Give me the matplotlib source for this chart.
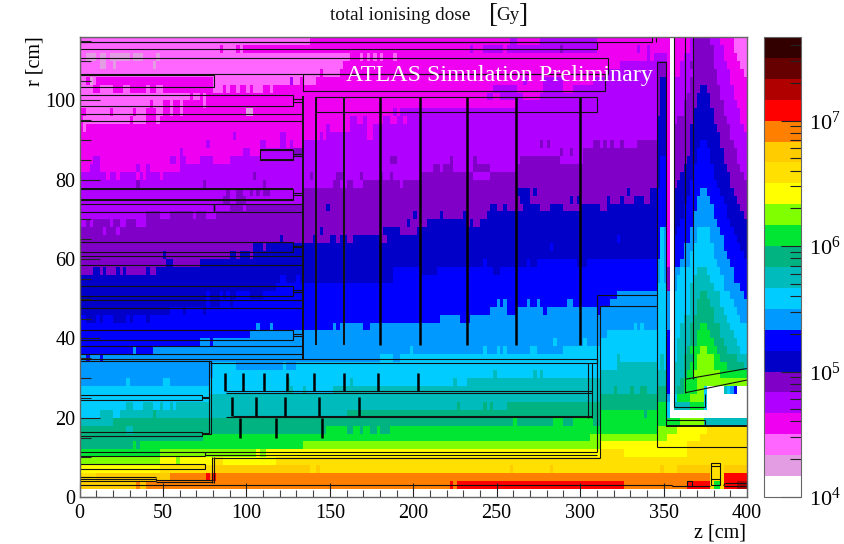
import numpy as np
import matplotlib
matplotlib.use("Agg")
import matplotlib.pyplot as plt
from matplotlib.colors import ListedColormap, LogNorm
from matplotlib.patches import Rectangle
from matplotlib.ticker import LogLocator, MultipleLocator, FixedLocator, FixedFormatter, NullFormatter

plt.rcParams['font.family'] = ['Liberation Serif', 'DejaVu Serif']
plt.rcParams['mathtext.fontset'] = 'custom'
plt.rcParams['mathtext.rm'] = 'Liberation Serif'
plt.rcParams['mathtext.it'] = 'Liberation Serif'

# Palette, one colour per dose level (6 levels per decade from 1e4 Gy)
palette = ['#ffffff', '#e39de3', '#ff66ff', '#f000f0', '#b000ff', '#8000c8', '#0000c8', '#0000ff',
           '#0099ff', '#00ccff', '#00bbbb', '#00b380', '#00e633', '#80ff00', '#ffff00', '#ffe000',
           '#ffcc00', '#ff8000', '#ff0000', '#b00000', '#660000', '#330000']

# Each row: level, z where that level ends, level, z ... (r bins 2 cm, z bins 2 cm)
r000 = [0,400]
r002 = [16,34,17,36,16,40,17,222,18,224,17,226,18,326,17,364,18,378,15,380,12,384,15,386,18,394,19,400]
r004 = [15,10,16,54,17,76,18,78,17,80,18,82,17,378,15,386,18,400]
r006 = [14,48,15,80,16,138,15,142,16,144,15,258,16,260,15,282,16,284,15,348,16,350,15,358,16,378,15,386,16,400]
r008 = [13,48,14,58,13,60,14,80,15,86,14,118,15,400]
r010 = [12,48,13,106,14,108,13,112,14,312,15,326,14,364,15,400]
r012 = [11,32,12,34,11,36,12,134,13,312,14,364,15,400]
r014 = [11,74,12,306,13,352,14,372,15,400]
r016 = [11,28,10,32,11,148,12,160,11,164,12,168,11,170,12,174,11,178,12,180,11,186,12,346,13,358,14,376,15,400]
r018 = [10,20,11,260,12,262,11,284,12,290,11,296,12,308,11,312,12,360,13,374,10,400]
r020 = [9,12,10,20,9,24,10,44,11,46,10,160,11,312,12,338,11,340,12,352,9,354,0,400]
r022 = [9,28,10,32,9,38,10,44,9,48,10,50,9,54,10,56,9,58,10,226,11,228,10,242,11,244,10,246,11,248,10,256,11,346,12,352,9,354,0,356,10,366,12,374,9,376,0,400]
r024 = [9,78,10,312,11,352,8,354,0,356,9,358,12,366,13,374,9,376,0,400]
r026 = [9,124,10,128,9,134,10,136,9,152,10,320,11,322,10,330,11,332,10,336,11,340,10,346,11,352,7,354,0,356,10,358,11,362,12,370,13,374,9,376,0,386,10,388,9,390,8,392,7,394,0,400]
r028 = [8,28,9,30,8,50,9,54,8,78,9,124,10,126,9,162,10,164,9,224,10,226,9,232,10,352,7,354,0,356,10,360,11,362,12,370,13,400]
r030 = [8,80,9,248,10,250,9,272,10,274,9,276,10,278,9,312,10,352,7,354,0,356,10,362,11,364,12,368,13,384,12,400]
r032 = [8,80,9,94,8,122,9,124,8,130,9,322,10,346,9,348,10,350,9,352,7,354,0,356,10,362,11,366,12,370,13,380,12,388,11,398,10,400]
r034 = [8,4,7,6,8,12,7,14,8,180,9,188,8,192,9,322,10,324,9,348,10,350,9,352,7,354,0,356,9,358,10,362,11,368,12,370,13,380,12,384,11,394,10,400]
r036 = [7,32,8,34,7,44,8,198,9,200,8,242,9,244,8,250,9,252,8,254,9,256,8,270,9,274,8,290,9,352,7,354,0,356,9,358,10,364,11,366,12,372,13,376,12,382,11,388,10,396,9,400]
r038 = [7,72,8,78,7,80,8,284,9,286,8,302,9,304,8,312,9,352,7,354,0,356,9,358,10,366,11,370,12,380,11,386,10,394,9,400]
r040 = [7,102,8,316,9,352,7,354,0,356,9,360,10,366,11,370,12,378,11,384,10,392,9,400]
r042 = [7,106,8,108,7,114,8,116,7,152,8,154,7,156,8,170,7,174,8,332,9,334,8,336,9,338,8,346,9,352,8,354,0,356,9,360,10,366,11,372,12,376,11,384,10,390,9,400]
r044 = [7,4,6,10,7,12,6,14,7,20,6,28,7,30,6,32,7,40,6,42,7,216,8,228,7,234,8,346,9,352,8,354,0,356,9,362,10,368,11,380,10,388,9,396,8,400]
r046 = [6,54,7,62,6,64,7,74,6,76,7,246,8,256,7,262,8,278,7,280,8,310,7,312,8,346,9,352,8,354,0,356,9,366,10,370,11,380,10,386,9,394,8,400]
r048 = [6,76,7,78,6,84,7,90,6,92,7,250,8,252,7,254,8,256,7,268,8,270,7,274,8,276,7,292,8,296,7,318,8,346,9,352,8,354,0,356,9,366,10,370,11,378,10,384,9,392,8,400]
r050 = [6,76,7,78,6,84,7,86,6,88,7,90,6,94,7,102,6,110,7,322,8,346,9,352,8,354,0,356,9,366,10,372,11,376,10,384,9,390,8,398,7,400]
r052 = [6,118,7,346,9,352,5,354,0,356,8,358,9,366,10,380,9,386,8,396,7,400]
r054 = [6,120,7,124,6,130,7,132,6,188,7,346,8,348,9,350,8,352,5,354,0,356,8,358,9,368,10,378,9,386,8,392,7,400]
r056 = [5,8,6,12,5,14,6,16,5,22,6,24,5,26,6,28,5,40,6,42,5,46,6,188,7,204,6,214,7,248,6,252,7,346,8,348,9,350,8,352,5,354,0,356,8,360,9,370,10,376,9,384,8,392,7,400]
r058 = [5,52,6,56,5,72,6,242,7,244,6,268,7,270,6,274,7,298,6,304,7,346,8,348,9,350,8,352,3,354,0,356,7,360,8,366,9,382,8,390,7,400]
r060 = [5,50,6,52,5,90,6,94,5,96,6,102,5,104,6,346,7,348,9,350,8,352,3,354,0,356,7,362,8,366,9,380,8,388,7,398,6,400]
r062 = [5,104,6,110,5,112,6,282,7,284,6,346,7,348,9,350,8,352,3,354,0,356,7,362,8,368,9,380,8,386,7,396,6,400]
r064 = [5,120,6,122,5,140,6,142,5,150,6,154,5,156,6,160,5,164,6,180,5,184,6,322,7,324,6,346,7,348,9,350,8,352,3,354,0,356,7,366,8,370,9,378,8,386,7,394,6,400]
r066 = [5,14,4,16,5,22,4,24,5,144,6,146,5,182,6,192,5,202,6,346,7,348,9,350,8,352,3,354,0,356,6,358,7,366,8,370,9,378,8,384,7,392,6,400]
r068 = [4,4,5,6,4,8,5,18,4,20,5,24,4,28,5,34,4,40,5,196,6,198,5,208,6,232,5,234,6,236,5,240,6,346,7,352,3,354,0,356,6,360,7,368,8,382,7,390,6,400]
r070 = [4,40,5,48,4,54,5,68,4,70,5,76,4,82,5,200,6,202,5,216,6,218,5,230,6,232,5,244,6,346,7,352,3,354,0,356,6,362,7,368,8,380,7,388,6,398,5,400]
r072 = [4,80,5,82,4,90,5,98,4,100,5,148,6,150,5,246,6,250,5,254,6,256,5,266,6,276,5,282,6,290,5,300,6,312,5,316,6,346,7,352,3,354,0,356,6,362,7,370,8,380,7,388,6,396,5,400]
r074 = [4,86,5,90,4,94,5,100,4,134,5,264,6,270,5,294,6,296,5,298,6,300,5,316,6,318,5,324,6,326,5,332,6,338,5,342,6,346,7,352,3,354,0,356,6,364,7,370,8,378,7,386,6,394,5,400]
r076 = [4,88,5,90,4,94,5,98,4,102,5,104,4,106,5,108,4,110,5,114,4,134,5,262,6,270,5,272,6,274,5,328,6,330,5,342,6,346,7,352,3,354,0,356,6,366,7,372,8,376,7,384,6,392,5,400]
r078 = [4,34,5,36,4,74,5,76,4,110,5,112,4,152,5,156,4,160,5,164,4,170,5,192,4,194,5,346,6,348,7,352,3,354,0,356,5,358,6,366,7,382,6,390,5,400]
r080 = [4,16,3,18,4,22,3,24,4,34,3,36,4,38,3,40,4,48,3,50,4,104,5,106,4,138,5,140,4,154,5,158,4,168,5,170,4,180,5,182,4,186,5,188,4,204,5,236,4,246,5,346,6,348,7,352,3,354,0,356,5,360,6,368,7,380,6,390,5,398,4,400]
r082 = [3,6,4,12,3,34,4,36,3,40,4,42,3,60,4,212,5,216,4,218,5,224,4,236,5,246,4,262,5,346,6,348,7,352,3,354,0,356,5,362,6,368,7,380,6,388,5,396,4,400]
r084 = [3,8,4,12,3,54,4,58,3,60,4,64,3,72,4,80,3,90,4,186,5,190,4,222,5,224,4,236,5,238,4,264,5,288,4,302,5,346,6,348,7,352,3,354,0,356,5,364,6,370,7,378,6,386,5,394,4,400]
r086 = [3,60,4,62,3,98,4,102,3,108,4,128,5,134,4,288,5,290,4,294,5,296,4,302,5,346,6,352,3,354,0,356,5,366,6,370,7,378,6,386,5,394,4,400]
r088 = [3,76,4,78,3,108,4,112,3,120,4,124,3,126,4,128,3,134,4,276,5,278,4,280,5,282,4,308,5,312,4,314,5,316,4,318,5,320,4,324,5,326,4,334,5,346,6,352,3,354,0,356,5,366,6,372,7,376,6,384,5,392,4,400]
r090 = [3,92,4,94,3,120,4,124,3,144,4,146,3,148,4,172,3,176,4,346,6,352,3,354,0,356,5,366,6,384,5,390,4,400]
r092 = [3,2,2,4,3,148,4,150,3,162,4,172,3,176,4,346,6,352,3,354,0,356,5,366,6,382,5,390,4,398,3,400]
r094 = [3,2,2,30,3,32,2,40,3,46,2,48,3,162,4,166,3,170,4,172,3,182,4,186,3,190,4,194,3,196,4,346,6,352,3,354,0,356,4,358,5,368,6,380,5,388,4,396,3,400]
r096 = [3,4,2,18,3,20,2,32,3,34,2,40,3,46,2,50,3,54,2,56,3,60,2,62,3,100,1,104,3,188,4,190,3,192,4,346,5,348,6,352,3,354,0,356,4,362,5,368,6,380,5,386,4,396,3,400]
r098 = [2,42,3,44,2,50,3,54,2,56,3,60,2,62,3,74,2,76,3,262,4,346,5,348,6,352,3,354,0,356,4,362,5,370,6,378,5,386,4,394,3,400]
r100 = [2,66,3,68,2,72,3,74,2,76,3,244,4,248,3,252,4,266,3,276,4,346,5,348,6,352,3,354,0,356,4,364,5,370,6,378,5,384,4,392,3,400]
r102 = [2,8,3,12,2,20,3,26,2,30,3,40,2,42,3,46,2,50,3,80,2,86,3,88,2,90,3,94,2,96,3,100,2,102,3,104,2,110,3,114,2,116,3,248,4,262,3,278,4,290,3,296,4,346,5,348,6,352,3,354,0,356,4,366,5,372,6,376,5,384,4,392,3,400]
r104 = [2,4,3,6,1,8,2,10,3,80,2,126,4,128,2,132,3,134,2,142,3,266,4,268,3,278,4,290,3,308,4,346,5,348,6,352,3,354,0,356,4,366,5,382,4,390,3,400]
r106 = [2,144,3,146,2,156,3,316,4,346,5,352,3,354,0,356,3,360,4,368,5,382,4,390,3,398,2,400]
r108 = [2,12,1,16,2,20,1,22,2,44,1,46,2,158,3,324,4,346,5,352,3,354,0,356,3,360,4,366,5,380,4,388,3,396,2,400]
r110 = [2,4,1,10,2,12,1,16,2,18,1,30,2,32,1,38,2,46,1,48,2,162,3,168,2,170,3,172,2,174,3,176,2,178,3,180,2,182,3,188,2,190,3,340,4,342,3,344,4,352,3,354,0,356,3,362,4,368,5,380,4,386,3,394,2,400]
r112 = [2,84,3,86,2,94,3,96,2,98,3,234,4,236,3,242,4,254,3,256,4,288,5,290,4,310,3,334,4,336,3,340,4,342,3,354,0,356,3,366,4,368,5,380,4,386,3,392,2,400]
r114 = [2,138,3,258,4,262,3,276,4,310,3,354,0,356,3,366,4,368,5,378,4,384,3,392,2,400]
dose_rows = [r000,r002,r004,r006,r008,r010,r012,r014,r016,r018,r020,r022,r024,r026,r028,r030,r032,r034,r036,r038,
             r040,r042,r044,r046,r048,r050,r052,r054,r056,r058,r060,r062,r064,r066,r068,r070,r072,r074,r076,r078,
             r080,r082,r084,r086,r088,r090,r092,r094,r096,r098,r100,r102,r104,r106,r108,r110,r112,r114]

# Detector outline: boxes (z0, z1, r0, r1) and lines (z0, r0, z1, r1)
boxes = [(0,343,114.8,116),(0,310,112.9,114.8),(0,317,106.6,110.6),(134,315,102.5,106.6),(0,80.4,103.3,106.4),
         (0,128,98.7,101.3),(108,128,85,87.4),(0,128,74.9,77.6),(0,128,61.9,64.4),(0,128,50.8,53.3),(0,128,39.5,42),
         (142,310,97,100.9),(0,73.4,24.5,25.6),(0,73.4,15.5,16.5),
         (77.4,78.6,15.8,34.4),(0,75,7.1,8.2),(364,367,2.8,4.0),(378.5,384,3,8.5)]
lines = [(0,96.7,133.5,96.7),(0,94.7,133.5,94.7),(0,73.8,133.5,73.8),(0,71.8,133.5,71.8),(80.4,71.8,80.4,73.8),
         (0,60.8,133.5,60.8),(0,58.6,133.5,58.6),(0,49.7,133.5,49.7),(0,47.6,133.5,47.6),(0,38,133.5,38),(0,36,133.5,36),
         (0,34.8,310,34.8),(0,34.3,78,34.3),(78.5,33.7,310,33.7),(310,33.7,310,34.8),
         (128,100.3,133.5,100.3),(128,99.7,133.5,99.7),(128,86.5,133.5,86.5),(128,85.9,133.5,85.9),
         (128,76.6,133.5,76.6),(128,76.1,133.5,76.1),(128,63.4,133.5,63.4),(128,63,133.5,63),
         (128,52.3,133.5,52.3),(128,51.8,133.5,51.8),(128,41,133.5,41),(128,40.5,133.5,40.5),
         (73.4,25.3,77.4,25.3),(73.4,24.9,77.4,24.9),(73.4,16.2,77.4,16.2),(73.4,15.8,77.4,15.8),
         (88,26.8,307,26.8),(88,26.3,307,26.3),(92,20.5,307,20.5),(88,20.2,307,20.2),(307,19.8,307,33.7),(304.5,20,304.5,33.7),
         (310,11.4,310,50.9),(312,9.75,312,48.2),(310,50.9,346,50.9),(312,48.2,346,48.2),
         (0,11.4,310,11.4),(0,10.3,75.4,10.3),(75.4,10.3,75.4,11.4),(75.4,10.6,310,10.6),(80,9.75,312,9.75),
         (79.2,3.6,79.2,10.2),(80.4,3.6,80.4,10.2),
         (0,5.1,46,5.1),(0,4.5,46,4.5),(0,3.95,46,3.95),(46,4.0,46,4.7),(46,4.4,80,4.4),(46,3.8,80,3.8),
         (0,3.0,355,3.0),(355,3.0,355,2.8),(355,2.8,378,2.8),(386,2.8,387,3.5),(387,3.5,400,3.5),(386,2.8,400,2.8),
         (346,12.7,400,12.7),(346,12.7,346,109.7),(351.4,18,351.4,109.7),(346,109.7,351.4,109.7),
         (351.4,19.4,374.6,19.4),(374.6,18,374.6,19.4),
         (356,22.6,374.6,22.6),(356,22.6,356,116),(374.6,22.6,374.6,26),(363,26.3,363,116),(367.4,29.7,367.4,116),
         (363,26.3,400,29.5),(363,29.7,400,32.4),(345.5,114.8,345.5,116),
         (378.5,7.8,384,7.8),(378.5,4.5,384,4.5)]
thick = [(133.7,34.7,133.7,101),(0,77.6,128,77.6),(0,74.9,128,74.9),(108,87.4,128,87.4),(108,85,128,85),(351.4,18,400,18),
         (142,38.3,142,100.9),(158.6,38.3,158.6,100.9)]
column_z = [180,204,232,261.6,300]
sct1_z = [87.4,98,110.6,124.4,140.4,158.4,179,203]
sct2_z = [91.4,105.8,123,143.4,167.6]
sct3_z = [96.2,118,145.6]

z_edges = np.arange(0, 402, 2)
r_edges = np.arange(0, 118, 2)
levels = np.zeros((len(dose_rows), len(z_edges)-1))
for j, row in enumerate(dose_rows):
    start = 0
    for lv, end in zip(row[0::2], row[1::2]):
        levels[j, start//2:end//2] = lv
        start = end
dose = 10**(4 + (levels + 0.5)/6)

fig = plt.figure(figsize=(8.44, 5.44), dpi=100)
W, H = 844, 544
ax = fig.add_axes([79.5/W, (H-497)/H, 667.5/W, 460/H])
norm = LogNorm(1e4, 10**(4+22/6))
cmap = ListedColormap(palette)
mesh = ax.pcolormesh(z_edges, r_edges, dose, cmap=cmap, norm=norm, linewidth=0, rasterized=True)
ax.set_xlim(0, 400)
ax.set_ylim(0, 116)

lc = '#111111'
for z0, z1, r0, r1 in boxes:
    ax.add_patch(Rectangle((z0, r0), z1-z0, r1-r0, fill=False, ec=lc, lw=0.8))
for z0, r0, z1, r1 in lines:
    ax.plot([z0, z1], [r0, r1], color=lc, lw=0.8, solid_capstyle='butt')
for z0, r0, z1, r1 in thick:
    ax.plot([z0, z1], [r0, r1], color=lc, lw=1.4, solid_capstyle='butt')
for z in column_z:
    ax.plot([z, z], [38.3, 100.9], color='#000000', lw=1.8, solid_capstyle='butt')
for z in sct1_z:
    ax.plot([z, z], [26.8, 31.3], color='#000000', lw=1.8, solid_capstyle='butt')
for z in sct2_z:
    ax.plot([z, z], [20.5, 25.3], color='#000000', lw=1.8, solid_capstyle='butt')
for z in sct3_z:
    ax.plot([z, z], [14.8, 20], color='#000000', lw=1.8, solid_capstyle='butt')

ax.xaxis.set_major_locator(MultipleLocator(50))
ax.xaxis.set_minor_locator(MultipleLocator(10))
ax.yaxis.set_major_locator(MultipleLocator(20))
ax.yaxis.set_minor_locator(MultipleLocator(5))
fs = 14.5
ax.tick_params(axis='x', which='major', direction='in', length=10, width=0.8, color='#222222', labelsize=fs, pad=5)
ax.tick_params(axis='x', which='minor', direction='in', length=5, width=0.8, color='#444444')
ax.tick_params(axis='y', which='major', direction='in', length=14.5, width=0.8, color='#222222', labelsize=fs, pad=3)
ax.tick_params(axis='y', which='minor', direction='in', length=8, width=0.8, color='#222222')
for s in ax.spines.values():
    s.set_color('#666666')
    s.set_linewidth(1.0)
    s.set_zorder(5)

cax = fig.add_axes([763.5/W, (H-497)/H, 37.5/W, 460/H])
cb = fig.colorbar(mesh, cax=cax)
cb.solids.set_rasterized(True)
cb.outline.set_edgecolor('#666666')
cax.yaxis.set_major_locator(FixedLocator([1e4, 1e5, 1e6, 1e7]))
cax.yaxis.set_major_formatter(FixedFormatter(['$10^{4}$', '$10^{5}$', '$10^{6}$', '$10^{7}$']))
cax.yaxis.set_minor_locator(LogLocator(base=10, subs=range(2, 10), numticks=12))
cax.yaxis.set_minor_formatter(NullFormatter())
cax.tick_params(axis='y', which='major', direction='in', length=14.5, width=0.8, color='#222222', labelsize=fs+1.5, pad=6)
cax.tick_params(axis='y', which='minor', direction='in', length=8, width=0.8, color='#222222')

fig.text(330/W, 1-15/H, 'total ionising dose', ha='left', va='center', fontsize=13.8, color='#111111')
fig.text(494/W, 1-16/H, '[', ha='center', va='center', fontsize=20, color='#111111', fontweight='light')
fig.text(508/W, 1-15/H, 'Gy', ha='center', va='center', fontsize=13.8, color='#111111')
fig.text(523/W, 1-16/H, ']', ha='center', va='center', fontsize=20, color='#111111', fontweight='light')
fig.text(35/W, 1-36/H, 'r [cm]', rotation=90, ha='center', va='top', fontsize=fs)
fig.text(746/W, 1-533/H, 'z [cm]', ha='right', va='center', fontsize=fs)
fig.text(500/W, 1-75/H, 'ATLAS Simulation Preliminary', ha='center', va='center', fontsize=17.4, color='white')
fig.savefig('out.png', dpi=100)
